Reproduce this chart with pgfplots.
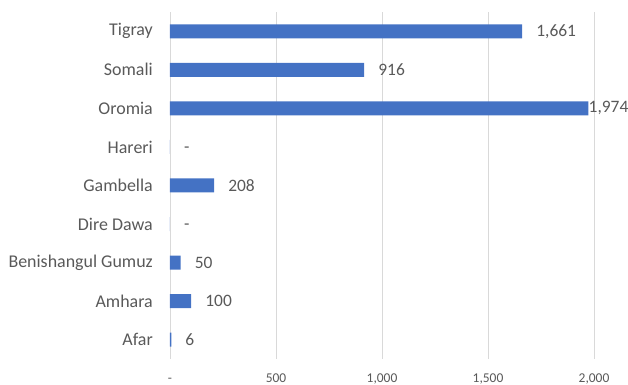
\documentclass[border=0pt]{standalone}
\usepackage{fontspec}
\setmainfont{Carlito}
\usepackage{pgfplots}
\pgfplotsset{compat=1.18}
\usepackage{pgfplotstable}

\definecolor{barblue}{HTML}{4472C4}
\definecolor{txtgray}{HTML}{595959}
\definecolor{gridgray}{HTML}{D9D9D9}

% regions from bottom (0) to top (8)
\pgfplotstableread{
pos value
0 6
1 100
2 50
3 0
4 208
5 0
6 1974
7 916
8 1661
}\casedata

% labels outside the bar end (Oromia is handled separately)
\pgfplotstableread{
pos value label
0 6 6
1 100 100
2 50 50
3 0 -
4 208 208
5 0 -
7 916 916
8 1661 1,661
}\labeldata

\begin{document}
\begin{tikzpicture}
\begin{axis}[
    scale only axis,
    width=424bp, height=347bp,
    xmin=0, xmax=2000,
    ymin=-0.5, ymax=8.5,
    enlargelimits=false,
    axis line style={draw=none},
    major tick length=0pt,
    xmajorgrids,
    grid style={gridgray, line width=0.8bp},
    xtick={0,500,1000,1500,2000},
    xticklabels={-,500,{1,000},{1,500},{2,000}},
    xticklabel style={font=\fontsize{13.5}{15}\selectfont, text=txtgray, anchor=base, inner sep=0pt, yshift=-24bp},
    ytick={0,1,2,3,4,5,6,7,8},
    yticklabels={Afar,Amhara,Benishangul Gumuz,Dire Dawa,Gambella,Hareri,Oromia,Somali,Tigray},
    yticklabel style={font=\fontsize{18}{20}\selectfont, text=txtgray, anchor=east, inner sep=0pt, xshift=-17bp},
    clip=false,
]
\addplot[xbar, bar width=14bp, fill=barblue, draw=none] table[x=value, y=pos] {\casedata};
\addplot[draw=none, mark=none, nodes near coords={\vphantom{0}\pgfplotspointmeta}, point meta=explicit symbolic,
    every node near coord/.style={anchor=west, inner sep=0pt, xshift=14bp, text=txtgray, font=\fontsize{17.5}{20}\selectfont}]
    table[x=value, y=pos, meta=label] {\labeldata};
\addplot[draw=none, mark=none, nodes near coords={\vphantom{0}\pgfplotspointmeta}, point meta=explicit symbolic,
    every node near coord/.style={anchor=west, inner sep=0pt, xshift=0bp, text=txtgray, font=\fontsize{17.5}{20}\selectfont}]
    coordinates {(1974,6) [{1,974}]};
\end{axis}
\pgfresetboundingbox
\path[use as bounding box] ([xshift=-170bp,yshift=-26bp]current axis.south west) rectangle ([xshift=34bp,yshift=12bp]current axis.north east);
\end{tikzpicture}
\end{document}
